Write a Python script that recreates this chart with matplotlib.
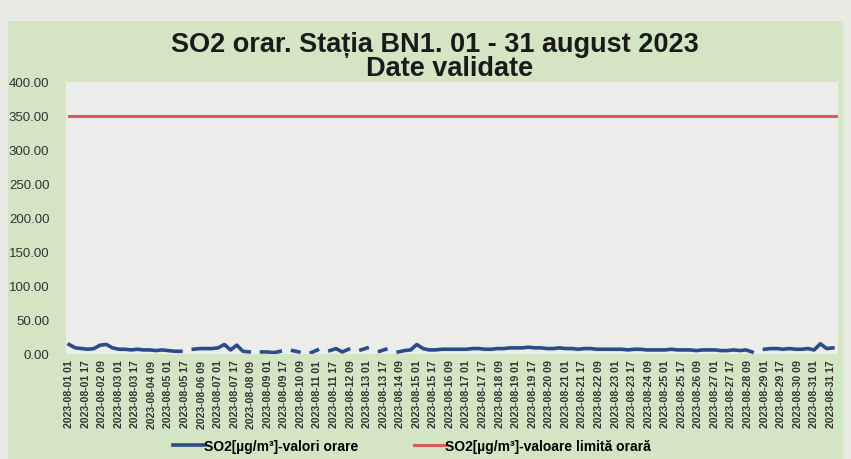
import numpy as np
import matplotlib.pyplot as plt
from matplotlib.patches import Rectangle

plt.rcParams['font.family'] = ['Liberation Sans', 'DejaVu Sans']

nan = np.nan
# SO2 readings, one value every 6 hours starting 2023-08-01 01:00
so2_values = [
    14, 9, 8, 7,   8, 13, 14, 9,   7, 7, 6, 7,   6, 6, 5, 6,
    5, 4, 4, nan,  7, 8, 8, 8,     9, 14, 6, 13, 4, 3, nan, 3,
    3, 2, 4, nan,  5, 3, nan, 2,   6, nan, 5, 8, 3, 7, nan, 6,
    9, nan, 4, 7,  nan, 3, 5, 6,   14, 8, 6, 6, 7, 7, 7, 7,
    7, 8, 8, 7,    7, 8, 8, 9,     9, 9, 10, 9, 9, 8, 8, 9,
    8, 8, 7, 8,    8, 7, 7, 7,     7, 7, 6, 7,  7, 6, 6, 6,
    6, 7, 6, 6,    6, 5, 6, 6,     6, 5, 5, 6,  5, 6, 3, nan,
    7, 8, 8, 7,    8, 7, 7, 8,     6, 15, 8, 9,
]
step_hours = 6
limit_value = 350
n_hours = 744
tick_every = 16

hours = np.arange(len(so2_values)) * step_hours
start = np.datetime64('2023-08-01T01')
tick_hours = np.arange(0, n_hours - 7, tick_every)
tick_labels = [str(start + np.timedelta64(int(h), 'h')).replace('T', ' ') for h in tick_hours]

fig = plt.figure(figsize=(8.51, 4.60), dpi=100)
fig.patch.set_facecolor('#e9eae6')
fig.patches.append(Rectangle((8 / 851, 0), 835 / 851, 438 / 460, transform=fig.transFigure,
                             facecolor='#d3e5c3', edgecolor='none', zorder=-10))

ax = fig.add_axes([66 / 851, 1 - 355 / 460, 772 / 851, 272 / 460], zorder=2)
ax.set_facecolor('#ececea')
ax.plot(hours, so2_values, color='#2b4c8c', lw=2.6, label='SO2[µg/m³]-valori orare')
ax.plot([0, n_hours - 1], [limit_value, limit_value], color='#dc5a5a', lw=2.2,
        label='SO2[µg/m³]-valoare limită orară')

ax.set_xlim(-3, n_hours - 1)
ax.set_ylim(0, 400)
ax.set_yticks(np.arange(0, 401, 50))
ax.set_yticklabels(['%.2f' % v for v in np.arange(0, 401, 50)], fontsize=9.5, color='#333333')
ax.set_xticks(tick_hours)
ax.set_xticklabels(tick_labels, rotation=90, fontsize=7.6, fontweight='bold', color='#333333')
ax.tick_params(length=0, pad=4)
ax.tick_params(axis='y', pad=12)
for s in ax.spines.values():
    s.set_visible(False)

fig.text(435 / 851, 1 - 45 / 460, 'SO2 orar. Stația BN1. 01 - 31 august 2023', ha='center', va='center',
         fontsize=19.5, fontweight='bold', color='#1a1a1a')
fig.text(450 / 851, 1 - 69 / 460, 'Date validate', ha='center', va='center',
         fontsize=19.5, fontweight='bold', color='#1a1a1a')

fig.legend(loc='center', bbox_to_anchor=(412 / 851, 1 - 447 / 460), ncol=2, frameon=False,
           prop={'size': 10, 'weight': 'bold'}, handlelength=2.2, columnspacing=4.0,
           handletextpad=0.05)

fig.savefig('out.png', dpi=100, facecolor=fig.get_facecolor())
